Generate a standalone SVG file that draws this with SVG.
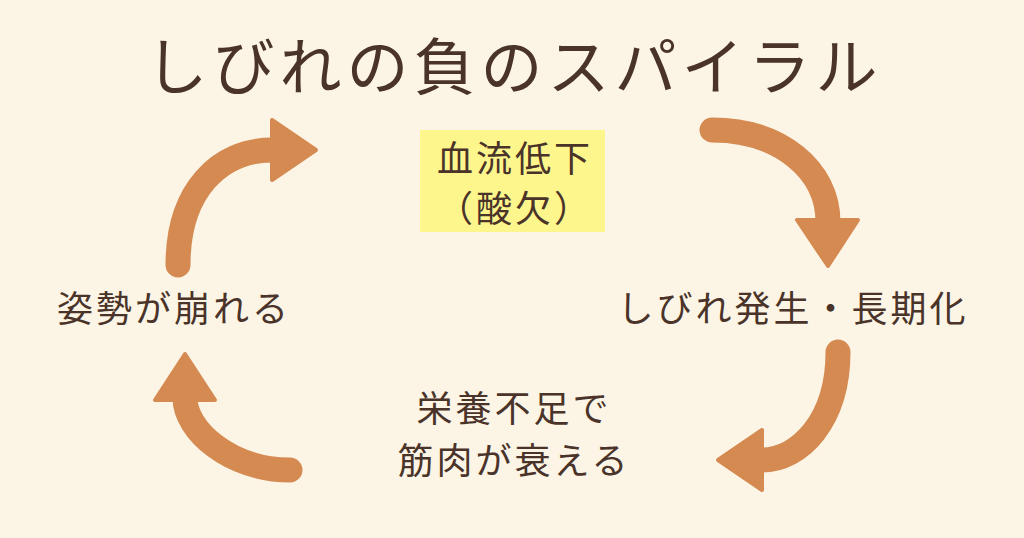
<svg xmlns="http://www.w3.org/2000/svg" width="1024" height="538" viewBox="0 0 1024 538">
<style>
text{font-family:"Noto Sans CJK JP",sans-serif;fill:#4a3329;text-anchor:middle}
.l{font-size:36px;letter-spacing:3px}
.a{fill:none;stroke:#d58a52;stroke-width:25;stroke-linecap:round}
.h{fill:#d58a52;stroke:#d58a52;stroke-width:4;stroke-linejoin:round}
</style>
<rect width="1024" height="538" fill="#fcf5e6"/>
<text x="514" y="90" font-size="62" letter-spacing="5">しびれの負のスパイラル</text>
<g id="n1"><rect x="420" y="130" width="185" height="102" fill="#fdf68c"/>
<text class="l" x="515" y="172">血流低下</text><text class="l" x="515" y="222">（酸欠）</text></g>
<g id="n2"><text class="l" x="793" y="322">しびれ発生・長期化</text></g>
<g id="n3"><text class="l" x="514" y="422">栄養不足で</text><text class="l" x="514" y="474">筋肉が衰える</text></g>
<g id="n4"><text class="l" x="174" y="322">姿勢が崩れる</text></g>
<g id="connectors">
<path class="a" d="M712,130 C780,130 828,170 828,222"/>
<polygon class="h" points="797,220 858,220 828,266"/>
<path class="a" d="M838,352 C838,420 800,460 762,460"/>
<polygon class="h" points="762,430 762,490 718,460"/>
<path class="a" d="M290,470 C230,470 185,430 185,398"/>
<polygon class="h" points="155,400 215,400 185,354"/>
<path class="a" d="M178,265 C178,190 220,150 272,150"/>
<polygon class="h" points="272,120 272,180 316,150"/>
</g>
</svg>
